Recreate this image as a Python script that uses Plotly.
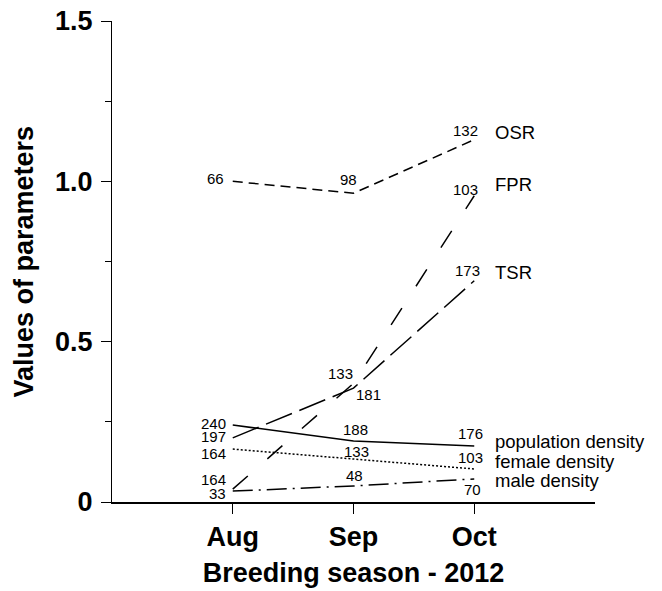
import plotly.graph_objects as go

months = ["Aug", "Sep", "Oct"]
osr = [1.0, 0.963, 1.13]
fpr = [0.04, 0.37, 0.955]
tsr = [0.20, 0.355, 0.69]
pop_density = [0.24, 0.19, 0.175]
female_density = [0.165, 0.134, 0.103]
male_density = [0.034, 0.05, 0.072]

osr_n = ["66", "98", "132"]
fpr_n = ["164", "133", "103"]
tsr_n = ["197", "181", "173"]
pop_n = ["240", "188", "176"]
female_n = ["164", "133", "103"]
male_n = ["33", "48", "70"]

series_names = ["OSR", "FPR", "TSR", "population density", "female density", "male density"]
y_ticks = [0, 0.5, 1.0, 1.5]
y_ticktext = ["0", "0.5", "1.0", "1.5"]
y_minor = [0.25, 0.75, 1.25]
y_title = "Values of parameters"
x_title = "Breeding season - 2012"

xi = [0, 1, 2]
series = [osr, fpr, tsr, pop_density, female_density, male_density]
dashes = ["10px,6px", "20px,26px", "28px,8px", "solid", "2px,2px", "20px,6px,2px,6px"]

fig = go.Figure()
for name, ys, d in zip(series_names, series, dashes):
    fig.add_trace(go.Scatter(x=xi, y=ys, mode="lines", name=name,
                             line=dict(color="black", width=1.5, dash=d),
                             showlegend=False, hoverinfo="skip"))

num_font = dict(family="Liberation Sans, Arial", size=15, color="black")
lab_font = dict(family="Liberation Sans, Arial", size=18.5, color="black")

def ann(x, y, text, xs, ys, anchor="center", font=num_font):
    fig.add_annotation(x=x, y=y, xref="x", yref="y", text=text, showarrow=False,
                       xshift=xs, yshift=ys, xanchor=anchor, yanchor="middle",
                       font=font, borderpad=0)

# Aug numbers (left of the points)
ann(xi[0], osr[0], osr_n[0], -8, 3, "right")
ann(xi[0], pop_density[0], pop_n[0], -6, 2, "right")
ann(xi[0], tsr[0], tsr_n[0], -6, 1, "right")
ann(xi[0], female_density[0], female_n[0], -6, -4, "right")
ann(xi[0], fpr[0], fpr_n[0], -6, 10, "right")
ann(xi[0], male_density[0], male_n[0], -6, -2, "right")
# Sep numbers
ann(xi[1], osr[1], osr_n[1], -5, 14)
ann(xi[1], fpr[1], fpr_n[1], -13, 10)
ann(xi[1], tsr[1], tsr_n[1], 15, -6)
ann(xi[1], pop_density[1], pop_n[1], 2, 12)
ann(xi[1], female_density[1], female_n[1], 3, 8)
ann(xi[1], male_density[1], male_n[1], 1, 10)
# Oct numbers
ann(xi[2], osr[2], osr_n[2], -9, 9)
ann(xi[2], fpr[2], fpr_n[2], -9, 6)
ann(xi[2], tsr[2], tsr_n[2], -7, 10)
ann(xi[2], pop_density[2], pop_n[2], -4, 12)
ann(xi[2], female_density[2], female_n[2], -4, 11)
ann(xi[2], male_density[2], male_n[2], -2, -11)
# Series labels at right
ann(xi[2], osr[2], series_names[0], 20, 7, "left", lab_font)
ann(xi[2], fpr[2], series_names[1], 20, 11, "left", lab_font)
ann(xi[2], tsr[2], series_names[2], 20, 8, "left", lab_font)
ann(xi[2], pop_density[2], series_names[3], 20, 4, "left", lab_font)
ann(xi[2], female_density[2], series_names[4], 20, 7, "left", lab_font)
ann(xi[2], male_density[2], series_names[5], 20, -2, "left", lab_font)

bold = dict(family="Liberation Sans, Arial", size=27, color="black", weight="bold")

# y-axis title as a rotated annotation (paper coords left of the plot area)
fig.add_annotation(x=0, y=0.5, xref="paper", yref="paper", text=y_title,
                   textangle=-90, showarrow=False, xanchor="center", yanchor="middle",
                   xshift=-89, font=bold, borderpad=0)

fig.update_layout(
    width=662, height=591,
    margin=dict(l=112, r=67, t=21, b=89),
    plot_bgcolor="white", paper_bgcolor="white",
    hovermode=False,
    xaxis=dict(range=[-1, 3], tickvals=xi, ticktext=months, showline=True,
               linecolor="black", linewidth=1.5, ticks="outside", ticklen=10,
               tickcolor="black", tickwidth=1.2, showgrid=False, zeroline=False,
               tickfont=bold, automargin=False, ticklabelstandoff=0,
               ticklabeloverflow="allow",
               title=dict(text=x_title, font=bold, standoff=12)),
    yaxis=dict(range=[0, 1.5], tickvals=y_ticks, ticktext=y_ticktext, showline=True,
               linecolor="black", linewidth=1.2, ticks="outside", ticklen=10,
               tickcolor="black", tickwidth=1.2, showgrid=False, zeroline=False,
               tickfont=bold, ticklabelstandoff=3, automargin=False,
               ticklabeloverflow="allow",
               minor=dict(tickvals=y_minor, ticks="outside", ticklen=6,
                          tickcolor="black", tickwidth=1, showgrid=False)),
)

fig.write_html("out.html", config={"displayModeBar": False},
               post_script="document.body.style.margin='0';document.body.style.overflow='hidden';")
